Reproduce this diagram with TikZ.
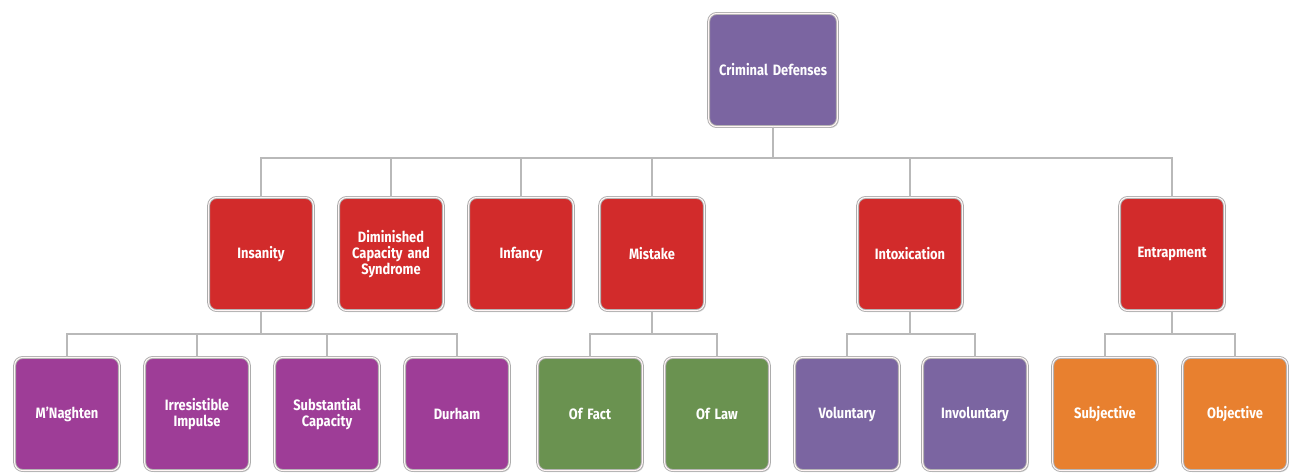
\documentclass[tikz,border=0pt]{standalone}
\usepackage{fontspec}
\setmainfont{Fira Sans}[FakeStretch=0.86]
\usetikzlibrary{shadows}
\definecolor{lav}{HTML}{7B65A1}
\definecolor{crim}{HTML}{D22B2B}
\definecolor{plum}{HTML}{9E3D97}
\definecolor{moss}{HTML}{6A9250}
\definecolor{tang}{HTML}{E8802F}
\begin{document}
\begin{tikzpicture}[x=1pt,y=-1pt,
    box/.style={rectangle,rounded corners=8pt,draw=gray!65,line width=0.9pt,
                double=white!85!pink,double distance=1.1pt,
                minimum width=104pt,minimum height=113pt,text width=98pt,align=center,
                text=white,font=\bfseries\fontsize{15}{16}\selectfont,
                drop shadow={shadow xshift=1.5pt,shadow yshift=-1.5pt,opacity=0.3}},
    link/.style={draw=gray!55,line width=1.8pt}]
    \useasboundingbox (0,0) rectangle (1290,473);
    %root
    \node[box,fill=lav,minimum width=128pt,text width=122pt] (root) at (773,70){Criminal Defenses};
    %defenses
    \node[box,fill=crim] (ins) at (261,254){Insanity};
    \node[box,fill=crim] (dim) at (391,254){Diminished\\Capacity and\\Syndrome};
    \node[box,fill=crim] (inf) at (521,254){Infancy};
    \node[box,fill=crim] (mis) at (652,254){Mistake};
    \node[box,fill=crim] (int) at (910,254){Intoxication};
    \node[box,fill=crim] (ent) at (1172,254){Entrapment};
    % insanity tests
    \node[box,fill=plum] (mn) at (67,414){M'Naghten};
    \node[box,fill=plum] (irr) at (197,414){Irresistible\\Impulse};
    \node[box,fill=plum] (sub) at (327,414){Substantial\\Capacity};
    \node[box,fill=plum] (dur) at (457,414){Durham};
    % mistake
    \node[box,fill=moss] (fact) at (590,414){Of Fact};
    \node[box,fill=moss] (law) at (717,414){Of Law};
    % intoxication
    \node[box,fill=lav] (vol) at (847,414){Voluntary};
    \node[box,fill=lav] (invol) at (975,414){Involuntary};
    % entrapment
    \node[box,fill=tang] (subj) at (1105,414){Subjective};
    \node[box,fill=tang] (obj) at (1235,414){Objective};
    %links
    \begin{scope}[on background layer/.try]
    \foreach \c in {ins,dim,inf,mis,int,ent}
        \draw[link] (root.south) -- ++(0,31) -| (\c.north);
    \foreach \c in {mn,irr,sub,dur}
        \draw[link] (ins.south) -- ++(0,23) -| (\c.north);
    \foreach \c in {fact,law}
        \draw[link] (mis.south) -- ++(0,23) -| (\c.north);
    \foreach \c in {vol,invol}
        \draw[link] (int.south) -- ++(0,23) -| (\c.north);
    \foreach \c in {subj,obj}
        \draw[link] (ent.south) -- ++(0,23) -| (\c.north);
    \end{scope}
\end{tikzpicture}
\end{document}
